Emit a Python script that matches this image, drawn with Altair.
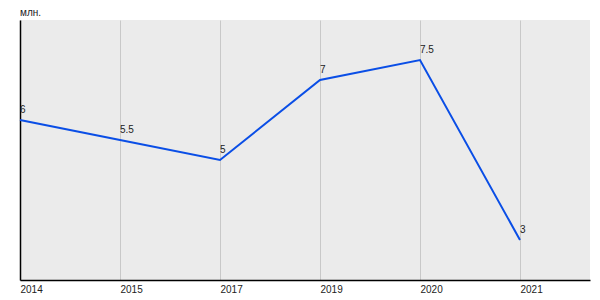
import altair as alt
import pandas as pd

years = ["2014", "2015", "2017", "2019", "2020", "2021"]
values = [6, 5.5, 5, 7, 7.5, 3]
labels = ["6", "5.5", "5", "7", "7.5", "3"]

df = pd.DataFrame({"idx": list(range(len(years))), "year": years, "value": values, "label": labels})

arr = "[" + ",".join("'" + y + "'" for y in years) + "]"
FONT = "Arial, Liberation Sans, sans-serif"

x = alt.X("idx:Q", scale=alt.Scale(domain=[0, 5.7], nice=False, zero=False),
          axis=alt.Axis(values=list(range(len(years))), labelExpr=arr + "[datum.value]",
                        title=None, ticks=False, domain=True, domainColor="#000000", domainWidth=1.5,
                        grid=True, gridColor="#c8c8c8", gridWidth=1,
                        labelAlign="left", labelPadding=4, labelFontSize=10, labelColor="#222222",
                        labelFont=FONT, labelFlush=False, labelOverlap=False))
y = alt.Y("value:Q", scale=alt.Scale(domain=[2, 8.5], nice=False, zero=False),
          axis=alt.Axis(labels=False, ticks=False, grid=False, title=None, domain=True,
                        domainColor="#000000", domainWidth=1.5))

base = alt.Chart(df)
line = base.mark_line(color="#0a4ee6", strokeWidth=2).encode(x=x, y=y)
text = base.mark_text(align="left", baseline="alphabetic", dx=0, dy=-7, fontSize=10,
                      font=FONT, color="#222222").encode(x=x, y=y, text="label:N")

chart = (line + text).properties(
    width=570, height=260,
    padding={"left": 20, "top": 20, "right": 10, "bottom": 20},
    autosize=alt.AutoSizeParams(type="none"),
    title=alt.TitleParams("млн.", anchor="start", fontSize=10, fontWeight="normal",
                          font=FONT, color="#222222", offset=2, frame="group"),
    background="#ffffff",
).configure_view(fill="#ebebeb", stroke=None)

chart.save("out.html", embed_options={"renderer": "svg", "actions": False})
